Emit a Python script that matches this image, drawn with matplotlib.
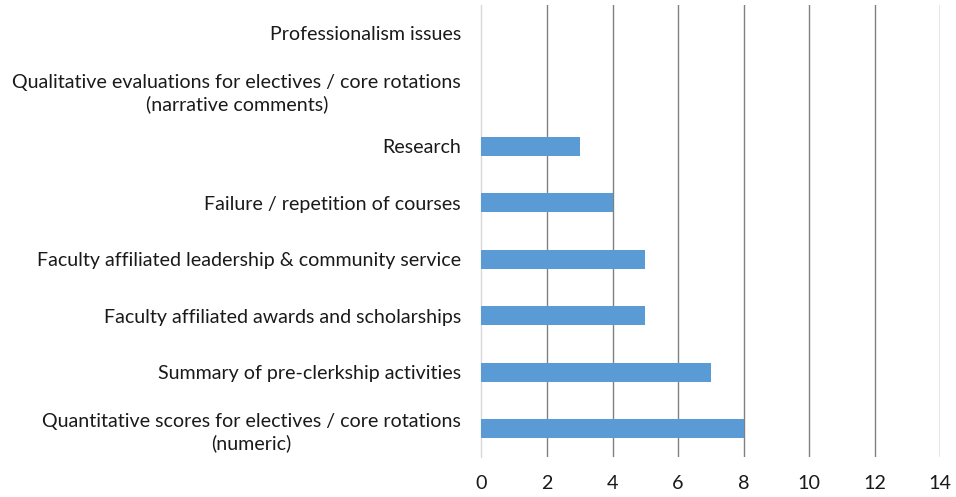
import matplotlib
matplotlib.use("Agg")
import matplotlib.pyplot as plt

# Categories listed bottom-to-top
categories = [
    "Quantitative scores for electives / core rotations\n(numeric)",
    "Summary of pre-clerkship activities",
    "Faculty affiliated awards and scholarships",
    "Faculty affiliated leadership & community service",
    "Failure / repetition of courses",
    "Research",
    "Qualitative evaluations for electives / core rotations\n(narrative comments)",
    "Professionalism issues",
]
counts = [8, 7, 5, 5, 4, 3, 0, 0]
x_ticks = [0, 2, 4, 6, 8, 10, 12, 14]

plt.rcParams["font.family"] = ["Lato", "DejaVu Sans"]

fig = plt.figure(figsize=(9.56, 4.97), dpi=100)
ax = fig.add_axes([481.5 / 956, 1 - 457 / 497, (940 - 481.5) / 956, (457 - 5) / 497])

y = list(range(len(categories)))
ax.barh(y, counts, height=0.34, color="#5B9BD5", zorder=3)

ax.set_xlim(0, 14)
ax.set_ylim(-0.5, len(categories) - 0.5)
ax.set_xticks(x_ticks)
ax.set_xticklabels([str(t) for t in x_ticks], fontsize=14.2, color="#1a1a1a")
ax.set_yticks(y)
ax.set_yticklabels(categories, fontsize=14.1, color="#1a1a1a", multialignment="center",
                   linespacing=1.3)

ax.tick_params(axis="both", length=0)
ax.tick_params(axis="x", pad=13)
ax.tick_params(axis="y", pad=14.7)

for s in ["top", "right", "bottom"]:
    ax.spines[s].set_visible(False)
ax.spines["left"].set_color("#D9D9D9")
ax.spines["left"].set_linewidth(1)

ax.grid(axis="x", color="#808080", linewidth=1, zorder=0)
ax.grid(axis="y", visible=False)
ax.xaxis.get_gridlines()[0].set_visible(False)

fig.savefig("out.png", dpi=100)
